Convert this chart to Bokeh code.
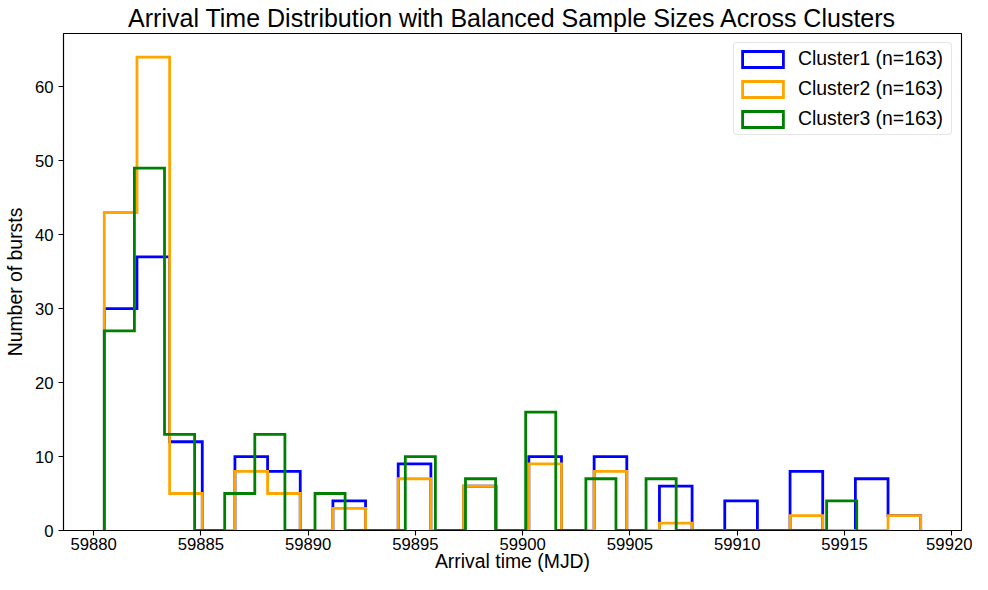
import numpy as np
from bokeh.plotting import figure
from bokeh.models import Range1d, FixedTicker, ColumnDataSource, Legend, LegendItem
from bokeh.embed import file_html
from bokeh.resources import INLINE

# ---------------- data ----------------
title_text = "Arrival Time Distribution with Balanced Sample Sizes Across Clusters"
x_label = "Arrival time (MJD)"
y_label = "Number of bursts"

cluster_names = ["Cluster1 (n=163)", "Cluster2 (n=163)", "Cluster3 (n=163)"]
cluster_colors = ["blue", "orange", "green"]

n_bins = 25
bin_start = 59880.50          # first bin edge (all clusters)
bin_end_c1 = 59918.55         # last bin edge, cluster 1
bin_end_c2 = 59918.55         # last bin edge, cluster 2
bin_end_c3 = 59915.57         # last bin edge, cluster 3

counts_c1 = [30, 37, 12, 0, 10, 8, 0, 4, 0, 9, 0, 6, 0, 10, 0, 10, 0, 6, 0, 4, 0, 8, 0, 7, 2]
counts_c2 = [43, 64, 5, 0, 8, 5, 0, 3, 0, 7, 0, 6, 0, 9, 0, 8, 0, 1, 0, 0, 0, 2, 0, 0, 2]
counts_c3 = [27, 49, 13, 0, 5, 13, 0, 5, 0, 0, 10, 0, 7, 0, 16, 0, 7, 0, 7, 0, 0, 0, 0, 0, 4]

x_ticks = [59880, 59885, 59890, 59895, 59900, 59905, 59910, 59915, 59920]
y_ticks = [0, 10, 20, 30, 40, 50, 60]

FONT = "Liberation Sans"

# ---------------- helpers ----------------
def step_outline(edges, counts):
    xs = np.repeat(np.asarray(edges, dtype=float), 2)
    ys = np.concatenate([[0.0], np.repeat(np.asarray(counts, dtype=float), 2), [0.0]])
    return xs, ys

edges_c1 = np.linspace(bin_start, bin_end_c1, n_bins + 1)
edges_c2 = np.linspace(bin_start, bin_end_c2, n_bins + 1)
edges_c3 = np.linspace(bin_start, bin_end_c3, n_bins + 1)

all_edges = np.concatenate([edges_c1, edges_c2, edges_c3])
xmin, xmax = all_edges.min(), all_edges.max()
span = xmax - xmin
x_lo, x_hi = xmin - 0.05 * span, xmax + 0.05 * span
y_hi = 1.05 * max(max(counts_c1), max(counts_c2), max(counts_c3))

p = figure(
    width=972, height=574,
    output_backend="svg", toolbar_location=None,
    x_range=Range1d(x_lo, x_hi), y_range=Range1d(0, y_hi),
    min_border_left=60, min_border_right=11, min_border_top=33, min_border_bottom=44,
    title=title_text,
)
p.title.align = "center"
p.title.text_font = FONT
p.title.text_font_size = "25px"
p.title.text_font_style = "normal"
p.title.text_color = "black"
p.title.text_line_height = 1.0
p.title.standoff = 3
p.title.offset = 0

p.background_fill_color = "white"
p.border_fill_color = "white"
p.outline_line_color = "black"
p.outline_line_width = 1.1
p.outline_line_alpha = 1.0
p.xgrid.visible = False
p.ygrid.visible = False

p.xaxis.ticker = FixedTicker(ticks=x_ticks)
p.yaxis.ticker = FixedTicker(ticks=y_ticks)
p.xaxis.axis_label = x_label
p.yaxis.axis_label = y_label
for ax in (p.xaxis, p.yaxis):
    ax.axis_line_color = "black"
    ax.axis_line_width = 1.1
    ax.major_tick_line_color = "black"
    ax.major_tick_line_width = 1.1
    ax.major_tick_out = 5
    ax.major_tick_in = 0
    ax.minor_tick_out = 0
    ax.minor_tick_in = 0
    ax.major_label_text_font = FONT
    ax.major_label_text_font_size = "16.7px"
    ax.major_label_text_color = "black"
    ax.axis_label_text_font = FONT
    ax.axis_label_text_font_size = "19.4px"
    ax.axis_label_text_font_style = "normal"
    ax.axis_label_text_color = "black"
p.xaxis.major_label_standoff = 2
p.xaxis.axis_label_standoff = -3
p.yaxis.major_label_standoff = 5
p.yaxis.axis_label_standoff = 6

items = []
outlines = []
for name, color, edges, counts in zip(
    cluster_names, cluster_colors,
    [edges_c1, edges_c2, edges_c3], [counts_c1, counts_c2, counts_c3],
):
    # legend proxy: zero-size box at the first bin edge (hidden under the outline)
    proxy = p.quad(
        source=ColumnDataSource(data=dict(left=[edges[0]], right=[edges[0]], top=[0.0], bottom=[0.0])),
        left="left", right="right", top="top", bottom="bottom",
        fill_alpha=0, line_color=color, line_width=2.8, line_join="miter",
    )
    items.append(LegendItem(label=name, renderers=[proxy]))
    outlines.append((edges, counts, color))

for edges, counts, color in outlines:
    xs, ys = step_outline(edges, counts)
    p.line(xs, ys, line_color=color, line_width=2.8, line_join="miter")

legend = Legend(
    items=items, location="top_right",
    label_text_font=FONT, label_text_font_size="19.4px", label_text_color="black",
    glyph_width=51, glyph_height=20, label_standoff=10, label_width=150, label_height=25,
    spacing=5, padding=3, margin=9,
    border_line_color="#cccccc", border_line_width=1.1,
    background_fill_color="white", background_fill_alpha=0.8,
)
try:
    legend.border_radius = 4
except Exception:
    pass
p.add_layout(legend)

open("out.html", "w").write(file_html(p, INLINE))
